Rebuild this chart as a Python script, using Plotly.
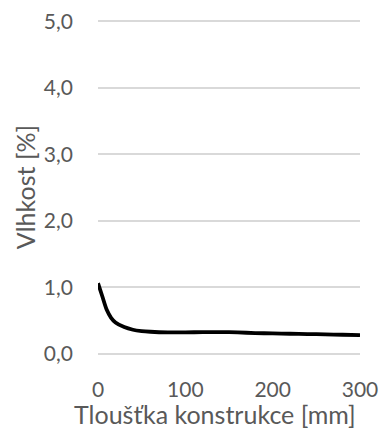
import plotly.graph_objects as go

thickness_mm = [0, 5, 10, 15, 20, 30, 40, 50, 60, 80, 100, 120, 140, 160, 180, 200, 220, 240, 260, 280, 300]
moisture_pct = [1.06, 0.86, 0.66, 0.54, 0.47, 0.40, 0.36, 0.34, 0.33, 0.32, 0.32, 0.325, 0.325, 0.32, 0.31, 0.305, 0.30, 0.295, 0.29, 0.285, 0.28]
y_ticks = [0, 1, 2, 3, 4, 5]
y_ticklabels = ["0,0", "1,0", "2,0", "3,0", "4,0", "5,0"]
x_ticks = [0, 100, 200, 300]
x_title = "Tloušťka konstrukce [mm]"
y_title = "Vlhkost [%]"

fig = go.Figure()
fig.add_trace(go.Scatter(x=thickness_mm, y=moisture_pct, mode="lines",
                         line=dict(color="black", width=3.8, shape="spline", smoothing=0.8),
                         showlegend=False, hoverinfo="skip", cliponaxis=False))

font = "Lato, Open Sans, sans-serif"
grey = "#595959"
fig.update_layout(
    width=380, height=430,
    margin=dict(l=98, r=20, t=20, b=75, autoexpand=False),
    paper_bgcolor="white", plot_bgcolor="white",
    font=dict(family=font, color=grey, size=21),
    xaxis=dict(range=[0, 300], tickvals=x_ticks, showgrid=False, zeroline=False,
               showline=False, ticks="", ticklabelstandoff=20, automargin=False,
               tickfont=dict(size=21, color=grey)),
    yaxis=dict(range=[-0.02, 5.02], tickvals=y_ticks, ticktext=y_ticklabels, showgrid=True,
               gridcolor="#d9d9d9", gridwidth=2, zeroline=False, showline=False, ticks="",
               ticklabelstandoff=24, automargin=False, tickfont=dict(size=21, color=grey)),
    annotations=[
        dict(text=x_title, xref="paper", yref="paper", x=0.447, y=-0.177,
             xanchor="center", yanchor="middle", showarrow=False,
             font=dict(size=25, color=grey, family=font)),
        dict(text=y_title, xref="paper", yref="paper", x=-0.28, y=0.5, textangle=-90,
             xanchor="center", yanchor="middle", showarrow=False,
             font=dict(size=25, color=grey, family=font)),
    ],
)
fig.write_html("out.html", config={"displayModeBar": False},
               post_script="document.body.style.margin='0';document.body.style.padding='0';")
